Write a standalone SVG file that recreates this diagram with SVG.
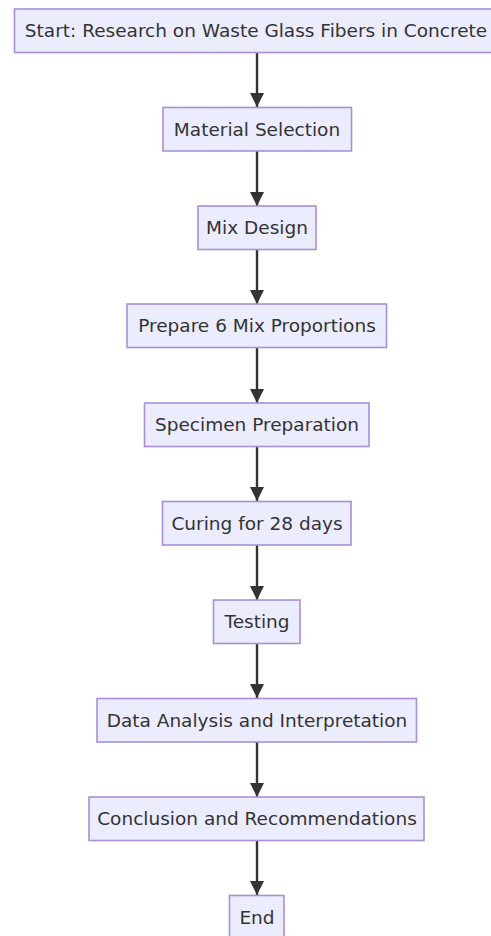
<svg xmlns="http://www.w3.org/2000/svg" width="491" height="936" viewBox="0 0 491 936">
<defs>
<style>
.node rect{fill:#ECECFF;stroke:#A88FD8;stroke-width:1.6}
.node text{font-family:"DejaVu Sans",Verdana,sans-serif;font-size:18.5px;fill:#333333;text-anchor:middle}
.edges line{stroke:#333333;stroke-width:2.4}
</style>
<marker id="ah" markerUnits="userSpaceOnUse" markerWidth="16" markerHeight="14" refX="14" refY="7" orient="auto">
<path d="M0,0 L14,7 L0,14 Z" fill="#333333"/>
</marker>
</defs>
<rect width="491" height="936" fill="#ffffff"/>
<g class="edges">
<line x1="257" y1="52" x2="257" y2="107" marker-end="url(#ah)"/>
<line x1="257" y1="151" x2="257" y2="206" marker-end="url(#ah)"/>
<line x1="257" y1="249" x2="257" y2="304" marker-end="url(#ah)"/>
<line x1="257" y1="347" x2="257" y2="403" marker-end="url(#ah)"/>
<line x1="257" y1="446" x2="257" y2="501" marker-end="url(#ah)"/>
<line x1="257" y1="545" x2="257" y2="600" marker-end="url(#ah)"/>
<line x1="257" y1="643" x2="257" y2="698" marker-end="url(#ah)"/>
<line x1="257" y1="742" x2="257" y2="797" marker-end="url(#ah)"/>
<line x1="257" y1="841" x2="257" y2="895" marker-end="url(#ah)"/>
</g>
<g id="start" class="node"><rect x="14.5" y="9" width="485" height="43.5"/><text x="256" y="37">Start: Research on Waste Glass Fibers in Concrete</text></g>
<g id="material" class="node"><rect x="163" y="107.5" width="188.5" height="43.5"/><text x="257" y="135.5">Material Selection</text></g>
<g id="mix" class="node"><rect x="198" y="206" width="118" height="43.5"/><text x="257" y="234">Mix Design</text></g>
<g id="prepare" class="node"><rect x="127" y="304" width="259.5" height="43.5"/><text x="257" y="332">Prepare 6 Mix Proportions</text></g>
<g id="specimen" class="node"><rect x="144.5" y="403" width="224.5" height="43.5"/><text x="257" y="431">Specimen Preparation</text></g>
<g id="curing" class="node"><rect x="162.5" y="501.5" width="188.5" height="43.5"/><text x="257" y="529.5">Curing for 28 days</text></g>
<g id="testing" class="node"><rect x="213.5" y="600" width="86.5" height="43.5"/><text x="257" y="628">Testing</text></g>
<g id="analysis" class="node"><rect x="97" y="698.5" width="319.5" height="43.5"/><text x="257" y="726.5">Data Analysis and Interpretation</text></g>
<g id="conclusion" class="node"><rect x="89" y="797" width="335" height="43.5"/><text x="257" y="825">Conclusion and Recommendations</text></g>
<g id="end" class="node"><rect x="229.5" y="895.5" width="54.5" height="43.5"/><text x="257" y="923.5">End</text></g>
</svg>
